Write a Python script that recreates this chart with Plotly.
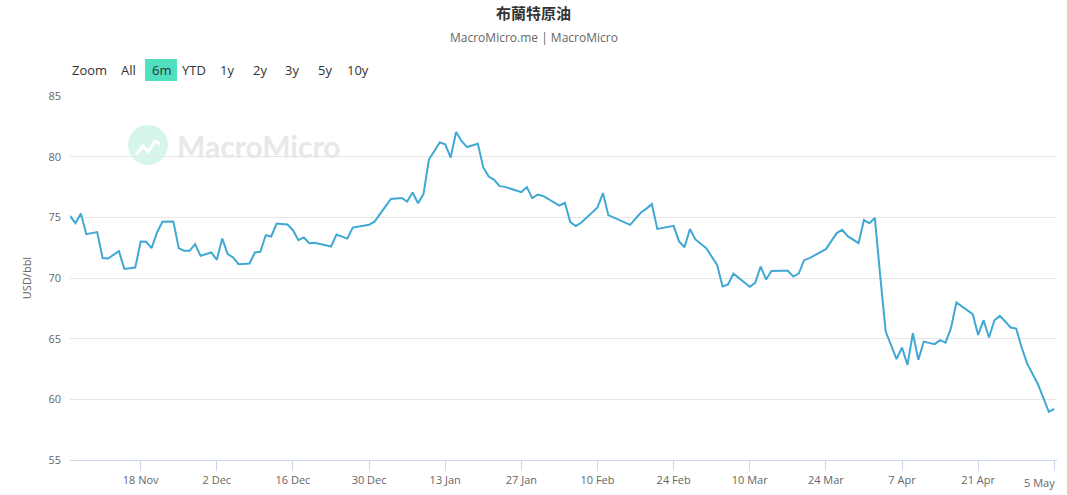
import plotly.graph_objects as go

# ---- data ----
DATES = [
    "2024-11-05", "2024-11-06", "2024-11-07", "2024-11-08", "2024-11-10", "2024-11-11", "2024-11-12",
    "2024-11-13", "2024-11-14", "2024-11-15", "2024-11-17",
    "2024-11-18", "2024-11-19", "2024-11-20", "2024-11-21", "2024-11-22", "2024-11-24",
    "2024-11-25", "2024-11-26", "2024-11-27", "2024-11-28", "2024-11-29", "2024-12-01",
    "2024-12-02", "2024-12-03", "2024-12-04", "2024-12-05", "2024-12-06", "2024-12-08",
    "2024-12-09", "2024-12-10", "2024-12-11", "2024-12-12", "2024-12-13", "2024-12-15",
    "2024-12-16", "2024-12-17", "2024-12-18", "2024-12-19", "2024-12-20",
    "2024-12-23", "2024-12-24", "2024-12-26", "2024-12-27", "2024-12-29",
    "2024-12-30", "2024-12-31", "2025-01-02", "2025-01-03", "2025-01-05",
    "2025-01-06", "2025-01-07", "2025-01-08", "2025-01-09", "2025-01-10", "2025-01-12",
    "2025-01-13", "2025-01-14", "2025-01-15", "2025-01-16", "2025-01-17", "2025-01-19",
    "2025-01-20", "2025-01-21", "2025-01-22", "2025-01-23", "2025-01-24",
    "2025-01-27", "2025-01-28", "2025-01-29", "2025-01-30", "2025-01-31",
    "2025-02-03", "2025-02-04", "2025-02-05", "2025-02-06", "2025-02-07",
    "2025-02-10", "2025-02-11", "2025-02-12", "2025-02-13", "2025-02-14", "2025-02-16",
    "2025-02-17", "2025-02-18", "2025-02-19", "2025-02-20", "2025-02-21",
    "2025-02-24", "2025-02-25", "2025-02-26", "2025-02-27", "2025-02-28", "2025-03-02",
    "2025-03-03", "2025-03-04", "2025-03-05", "2025-03-06", "2025-03-07",
    "2025-03-10", "2025-03-11", "2025-03-12", "2025-03-13", "2025-03-14", "2025-03-16",
    "2025-03-17", "2025-03-18", "2025-03-19", "2025-03-20", "2025-03-21",
    "2025-03-24", "2025-03-25", "2025-03-26", "2025-03-27", "2025-03-28", "2025-03-30",
    "2025-03-31", "2025-04-01", "2025-04-02", "2025-04-03", "2025-04-04", "2025-04-06",
    "2025-04-07", "2025-04-08", "2025-04-09", "2025-04-10", "2025-04-11", "2025-04-13",
    "2025-04-14", "2025-04-15", "2025-04-16", "2025-04-17", "2025-04-20",
    "2025-04-21", "2025-04-22", "2025-04-23", "2025-04-24", "2025-04-25", "2025-04-27",
    "2025-04-28", "2025-04-29", "2025-04-30", "2025-05-01", "2025-05-02", "2025-05-04",
    "2025-05-05",
]

PRICES = [
    75.12, 74.52, 75.31, 73.61, 73.78, 71.64, 71.60, 71.90, 72.21, 70.75, 70.86,
    73.00, 72.98, 72.46, 73.75, 74.63, 74.65,
    72.46, 72.24, 72.24, 72.79, 71.83, 72.10,
    71.50, 73.25, 71.97, 71.69, 71.14, 71.19,
    72.10, 72.16, 73.53, 73.42, 74.49, 74.41,
    73.94, 73.12, 73.34, 72.87, 72.90,
    72.59, 73.58, 73.25, 74.16, 74.30,
    74.39, 74.64, 75.93, 76.51, 76.60,
    76.30, 77.05, 76.16, 76.92, 79.76, 81.17,
    81.01, 79.92, 82.03, 81.29, 80.79, 81.06,
    79.11, 78.36, 78.09, 77.57, 77.51,
    77.08, 77.49, 76.58, 76.87, 76.76,
    75.96, 76.20, 74.61, 74.29, 74.55,
    75.81, 77.00, 75.18, 74.98, 74.74, 74.38,
    74.90, 75.40, 75.72, 76.09, 74.05,
    74.30, 73.02, 72.53, 74.04, 73.18, 72.45,
    71.75, 71.08, 69.30, 69.46, 70.36,
    69.28, 69.60, 70.95, 69.88, 70.58, 70.59,
    70.59, 70.12, 70.37, 71.47, 71.64,
    72.38, 73.02, 73.70, 73.97, 73.45, 72.87,
    74.77, 74.52, 74.95, 70.14, 65.58, 63.31,
    64.27, 62.84, 65.45, 63.25, 64.76, 64.55,
    64.88, 64.68, 65.87, 67.98, 67.02,
    65.31, 66.52, 65.09, 66.52, 66.88, 65.92,
    65.83, 64.27, 62.96, 62.10, 61.25, 58.97,
    59.21,
]

TICK_DATES = ["2024-11-18", "2024-12-02", "2024-12-16", "2024-12-30", "2025-01-13", "2025-01-27",
              "2025-02-10", "2025-02-24", "2025-03-10", "2025-03-24", "2025-04-07", "2025-04-21",
              "2025-05-05"]
TICK_LABELS = ["18 Nov", "2 Dec", "16 Dec", "30 Dec", "13 Jan", "27 Jan", "10 Feb", "24 Feb",
               "10 Mar", "24 Mar", "7 Apr", "21 Apr", "5 May"]
Y_TICKS = [55, 60, 65, 70, 75, 80, 85]
X_END = "2025-05-05 12:00"

RANGE_BUTTONS = ["All", "6m", "YTD", "1y", "2y", "3y", "5y", "10y"]
ACTIVE_BUTTON = "6m"

TITLE = "布蘭特原油"
SUBTITLE = "MacroMicro.me | MacroMicro"
Y_TITLE = "USD/bbl"
SERIES_NAME = "布蘭特原油"

assert len(DATES) == len(PRICES)

# ---- layout geometry (pixels) ----
W, H = 1067, 495
ML, MR, MT, MB = 70, 10, 96, 35
PW, PH = W - ML - MR, H - MT - MB


def px(x):
    return (x - ML) / PW


def py(y):
    return (H - MB - y) / PH


LINE_COLOR = "#3fa9d3"
GRID = "#e6e6e6"
AXIS = "#ccd6eb"
TXT = "#333333"
TICKTXT = "#666666"
FONT = "Open Sans, Noto Sans CJK TC, sans-serif"

fig = go.Figure()
fig.add_trace(go.Scatter(
    x=DATES, y=PRICES, mode="lines", name=SERIES_NAME,
    line=dict(color=LINE_COLOR, width=2),
    hovertemplate="%{x|%d %b %Y}<br>%{y:.2f}<extra></extra>",
))

# last tick label is shifted left (kept inside the chart) -> drawn as annotation
shown_ticktext = TICK_LABELS[:-1] + [""]

fig.update_layout(
    width=W, height=H,
    margin=dict(l=ML, r=MR, t=MT, b=MB, autoexpand=False),
    paper_bgcolor="white", plot_bgcolor="white",
    showlegend=False,
    font=dict(family=FONT, color=TXT),
    title=dict(text=TITLE, x=0.5, xanchor="center", y=1 - 14 / H, yanchor="middle",
               font=dict(family="Noto Sans CJK TC, sans-serif", size=15, color=TXT, weight=600)),
    xaxis=dict(
        type="date",
        range=[DATES[0], X_END],
        tickvals=TICK_DATES, ticktext=shown_ticktext,
        tickfont=dict(size=11, color=TICKTXT, family=FONT),
        ticks="outside", ticklen=10, tickcolor=AXIS, tickwidth=1,
        showline=True, linecolor=AXIS, linewidth=1,
        showgrid=False, zeroline=False,
    ),
    yaxis=dict(
        range=[55, 85], tickvals=Y_TICKS,
        tickfont=dict(size=11, color=TICKTXT, family=FONT),
        showgrid=True, gridcolor=GRID, gridwidth=1,
        zeroline=False, showline=False, ticks="",
        ticklabelstandoff=8,
        title=dict(text=Y_TITLE, font=dict(size=11, color=TICKTXT, family=FONT), standoff=14),
    ),
    hovermode="x",
)

fig.add_annotation(text=TICK_LABELS[-1], xref="paper", yref="paper", x=px(1057), y=py(482),
                   xanchor="right", yanchor="middle", showarrow=False,
                   font=dict(size=11, color=TICKTXT, family=FONT))

# subtitle
fig.add_annotation(text=SUBTITLE, xref="paper", yref="paper", x=px(W / 2), y=py(38),
                   xanchor="center", yanchor="middle", showarrow=False,
                   font=dict(size=12, color=TICKTXT, family=FONT))

# range selector look-alike: "Zoom" label and buttons
fig.add_annotation(text="Zoom", xref="paper", yref="paper", x=px(70), y=py(70),
                   xanchor="left", yanchor="middle", showarrow=False,
                   font=dict(size=13, color=TXT, family=FONT))
btn_centers = [128, 161, 194, 227, 260, 292, 325, 358]
for label, cx in zip(RANGE_BUTTONS, btn_centers):
    if label == ACTIVE_BUTTON:
        fig.add_shape(type="rect", xref="paper", yref="paper",
                      x0=px(cx - 16), x1=px(cx + 16), y0=py(81), y1=py(59),
                      fillcolor="#4fe0bf", line=dict(width=0), layer="below")
    fig.add_annotation(text=label, xref="paper", yref="paper", x=px(cx), y=py(70),
                       xanchor="center", yanchor="middle", showarrow=False,
                       font=dict(size=13, color=TXT, family=FONT))

# watermark
fig.add_annotation(text="<b>MacroMicro</b>", xref="paper", yref="paper", x=px(175), y=py(146),
                   xanchor="left", yanchor="middle", showarrow=False,
                   font=dict(size=30, color="#e8e8e8", family="Lato, Open Sans, sans-serif"))
fig.add_shape(type="circle", xref="paper", yref="paper",
              x0=px(128), x1=px(168), y0=py(165), y1=py(125),
              fillcolor="#d6f5ed", line=dict(width=0), layer="below")
icon_pts = [(136, 155), (143, 146), (148, 152), (155, 141), (160, 144)]
path = "M " + " L ".join(f"{px(a)} {py(b)}" for a, b in icon_pts)
fig.add_shape(type="path", xref="paper", yref="paper", path=path,
              line=dict(color="white", width=3), layer="below")

fig.write_html("out.html", config={"displayModeBar": False},
               post_script="document.body.style.margin='0';")
